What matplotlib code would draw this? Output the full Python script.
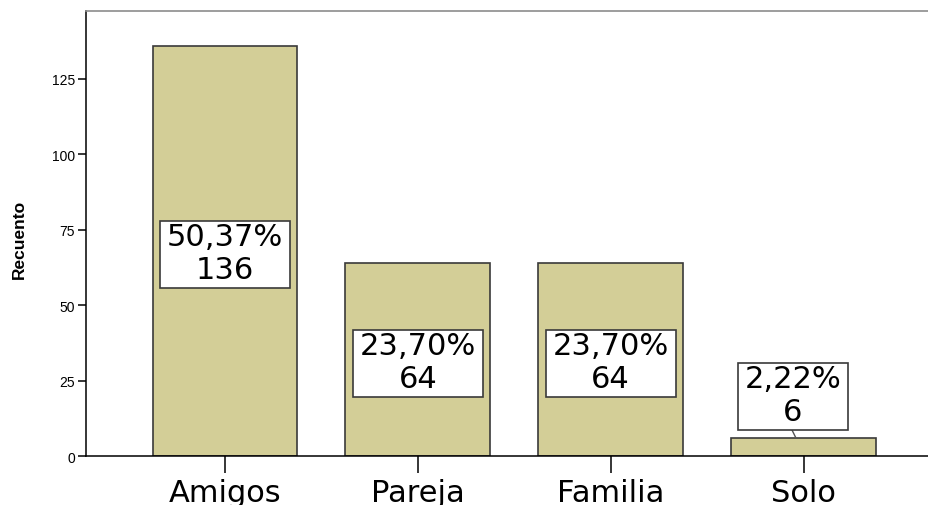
import matplotlib.pyplot as plt
from matplotlib.patches import Rectangle

# datos
categorias = ["Amigos", "Pareja", "Familia", "Solo"]
recuento = [136, 64, 64, 6]
porcentajes = ["50,37%", "23,70%", "23,70%", "2,22%"]
yticks = [0, 25, 50, 75, 100, 125]

plt.rcParams["font.family"] = ["Liberation Sans", "DejaVu Sans"]

fig = plt.figure(figsize=(9.29, 5.06), dpi=100)
ax = fig.add_axes([0.0926, 0.0968, 0.9074, 0.8795])

x = list(range(len(categorias)))
ax.bar(x, recuento, width=0.75, color="#d3ce97", edgecolor="#3a3a3a", linewidth=1.2, zorder=2)

ax.set_xlim(-0.72, 3.65)
ax.set_ylim(0, 147.5)
ax.set_xticks(x)
ax.set_xticklabels(categorias, fontsize=22, family="DejaVu Sans")
ax.set_yticks(yticks)
ax.set_yticklabels([str(t) for t in yticks], fontsize=10)
ax.tick_params(axis="y", length=6, width=1.1, pad=2)
ax.tick_params(axis="x", length=12, width=1.1, pad=4)

ax.set_ylabel("Recuento", fontsize=12.5, fontweight="bold")
ax.yaxis.set_label_coords(-0.070, 0.49)

for s in ["left", "bottom"]:
    ax.spines[s].set_linewidth(1.1)
    ax.spines[s].set_color("black")
ax.spines["top"].set_color("#8c8c8c")
ax.spines["top"].set_linewidth(1.2)
ax.spines["right"].set_visible(False)

# etiquetas con caja (ancho segun texto)
renderer = fig.canvas.get_renderer()
px_x = ax.transData.transform((1, 0))[0] - ax.transData.transform((0, 0))[0]
px_y = ax.transData.transform((0, 1))[1] - ax.transData.transform((0, 0))[1]
box_h = 67 / px_y
for xi, val, pct in zip(x, recuento, porcentajes):
    if val > box_h + 4:
        cx, cy = xi, val / 2 - 1.2
    else:
        cx, cy = xi - 0.055, val + 2.6 + box_h / 2
        ax.plot([cx - 0.005, cx + 0.015], [cy - box_h / 2, val], color="#555555", lw=1, zorder=3)
    t = ax.text(cx, cy + 0.4, pct + "\n" + str(val), ha="center", va="center",
                fontsize=22, family="DejaVu Sans", linespacing=1.17, zorder=5)
    w = (t.get_window_extent(renderer).width + 14) / px_x
    ax.add_patch(Rectangle((cx - w / 2, cy - box_h / 2), w, box_h,
                           facecolor="white", edgecolor="#3a3a3a", linewidth=1.2, zorder=4))

fig.savefig("out.png", dpi=100)
